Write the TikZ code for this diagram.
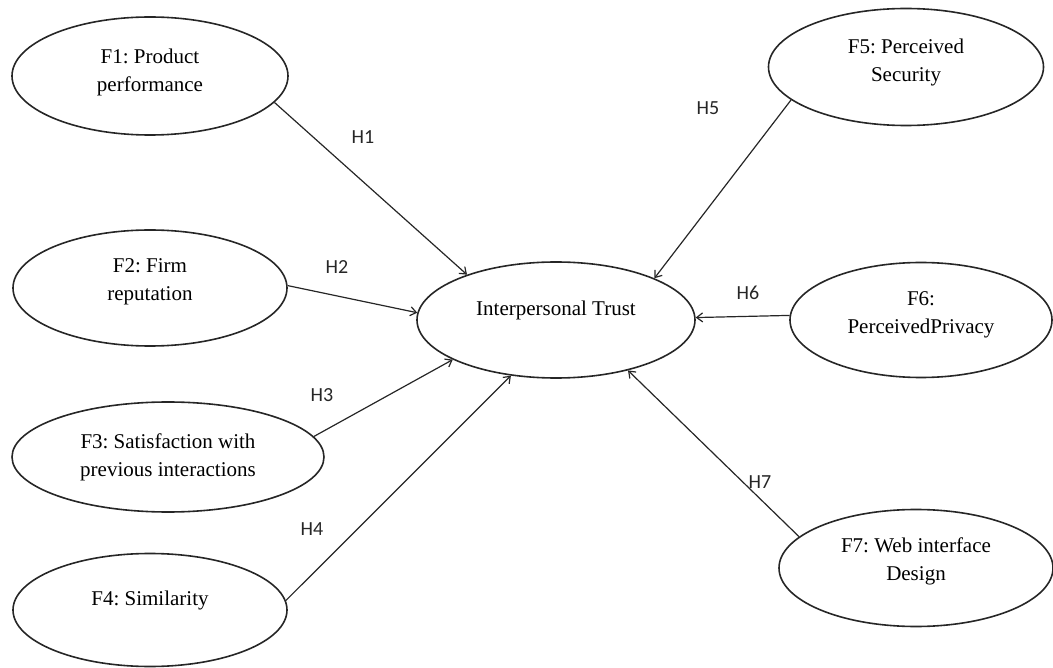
\documentclass[tikz,border=0pt]{standalone}
\usepackage{fontspec}
\setmainfont{Liberation Serif}
\newfontfamily\hfont{Carlito}
\usetikzlibrary{arrows.meta,shapes.geometric}
\newcommand{\upby}[2]{\raisebox{#1}[\height][\depth]{#2}}
\frenchspacing
\begin{document}
\begin{tikzpicture}[x=1pt,y=-1pt,
  ell/.style={draw=black!85, line width=1.6pt, ellipse, inner sep=0pt, align=center,
    font=\fontsize{21}{28}\selectfont},
  hyp/.style={font=\hfont\fontsize{20}{24}\selectfont, text=black!85, inner sep=1pt},
  conn/.style={draw=black!85, line width=1.2pt, -{Straight Barb[length=6pt,width=9pt,line width=1.2pt]}}]
\useasboundingbox (0,0) rectangle (1053,668);
\node[ell, minimum width=276pt, minimum height=118pt] (F1) at (150,76) {\upby{4pt}{F1: Product}\\\upby{4pt}{performance}};
\node[ell, minimum width=274pt, minimum height=116pt] (F2) at (150,288) {\upby{6pt}{F2: Firm}\\\upby{6pt}{reputation}};
\node[ell, minimum width=312pt, minimum height=110pt] (F3) at (168,457) {F3: Satisfaction with\\previous interactions};
\node[ell, minimum width=274pt, minimum height=113pt] (F4) at (150,610) {\upby{10pt}{F4: Similarity}};
\node[ell, minimum width=278pt, minimum height=116pt] (IT) at (556,320) {\upby{10pt}{Interpersonal Trust}};
\node[ell, minimum width=275pt, minimum height=117pt] (F5) at (906,67) {\upby{5pt}{F5: Perceived}\\\upby{5pt}{Security}};
\node[ell, minimum width=262pt, minimum height=115pt] (F6) at (921,320) {\upby{5pt}{F6:}\\\upby{5pt}{PerceivedPrivacy}};
\node[ell, minimum width=274pt, minimum height=117pt] (F7) at (916,568) {\upby{7pt}{F7: Web interface}\\\upby{7pt}{Design}};

\draw[conn] (F1.-12) -- (IT.153.4);
\draw[conn] (F2.1.3) -- (IT.177.5);
\draw[conn] (F3.8) -- (IT.201.5);
\draw[conn] (F4.4.1) -- (IT.231.6);
\draw[conn] (F5.196.1) -- (IT.23.4);
\draw[conn] (F6.178.2) -- (IT.1.6);
\draw[conn] (F7.165.7) -- (IT.-35.3);

\node[hyp] (H1) at (363,137) {H1};
\node[hyp] (H2) at (337,267) {H2};
\node[hyp] (H3) at (322,395) {H3};
\node[hyp] (H4) at (312,529) {H4};
\node[hyp] (H5) at (708,108) {H5};
\node[hyp] (H6) at (748,293) {H6};
\node[hyp] (H7) at (760,482) {H7};
\end{tikzpicture}
\end{document}
